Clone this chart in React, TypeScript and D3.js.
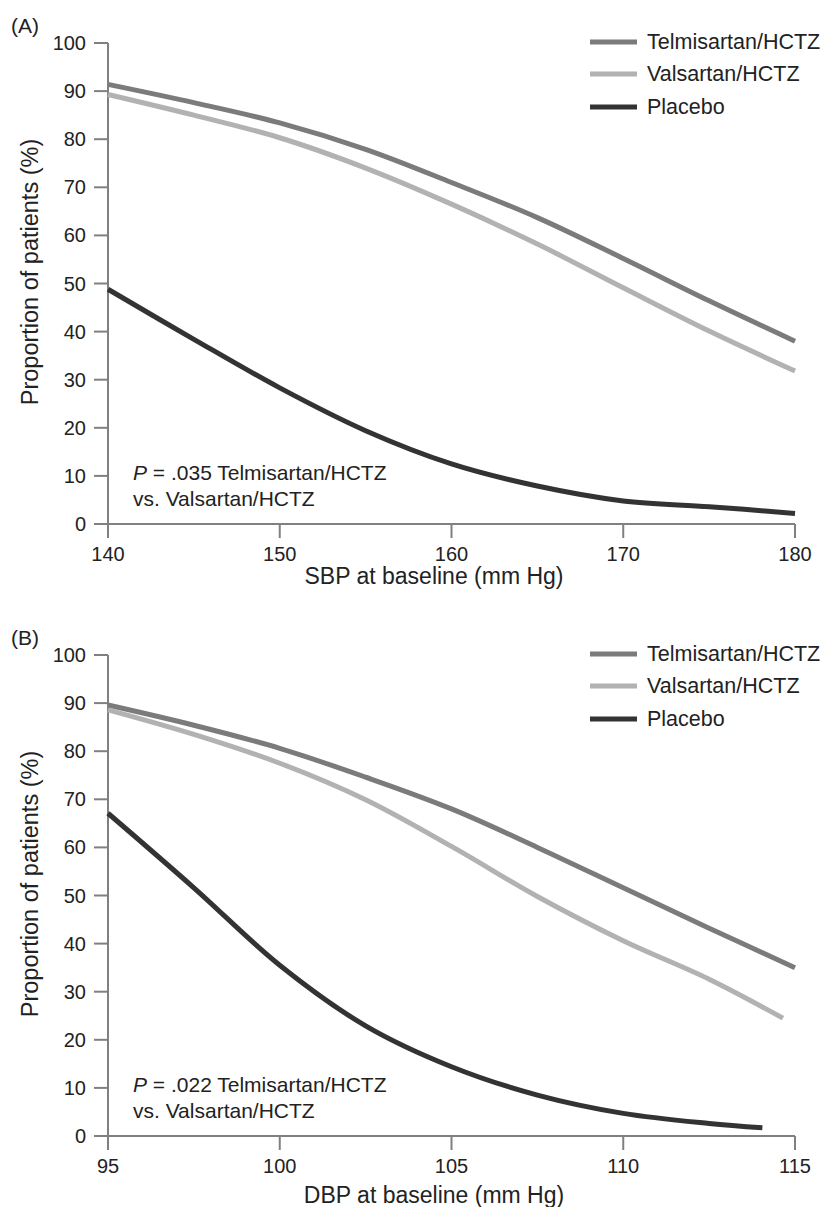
import React from "react";
import * as d3 from "d3";

// ---- Data ----
const sbpX = [140, 145, 150, 155, 160, 165, 170, 175, 180];
const sbpTelmisartan = [91.4, 87.6, 83.4, 77.9, 71.0, 63.7, 55.2, 46.4, 38.0];
const sbpValsartan = [89.3, 85.0, 80.3, 74.0, 66.5, 58.2, 49.1, 40.1, 31.8];
const sbpPlacebo = [48.8, 38.4, 28.3, 19.4, 12.5, 7.9, 4.8, 3.6, 2.2];

const dbpX = [95, 97.5, 100, 102.5, 105, 107.5, 110, 112.5, 115];
const dbpTelmisartan = [89.6, 85.4, 80.6, 74.6, 68.0, 60.0, 51.6, 43.2, 35.0];
const dbpValsartanX = [95, 97.5, 100, 102.5, 105, 107.5, 110, 112.5, 114.65];
const dbpValsartan = [88.6, 83.5, 77.5, 69.9, 60.2, 49.8, 40.6, 32.6, 24.5];
const dbpPlaceboX = [95, 97.5, 100, 102.5, 105, 107.5, 110, 112.5, 114.05];
const dbpPlacebo = [67.1, 51.6, 35.5, 22.9, 14.4, 8.5, 4.7, 2.6, 1.7];

const sbpTicks = [140, 150, 160, 170, 180];
const dbpTicks = [95, 100, 105, 110, 115];
const yTicks = [0, 10, 20, 30, 40, 50, 60, 70, 80, 90, 100];

const seriesNames = ["Telmisartan/HCTZ", "Valsartan/HCTZ", "Placebo"];
const seriesColors = ["#7b7b7b", "#b2b2b2", "#333333"];

const FONT = "'Liberation Sans', Arial, sans-serif";

type Series = { xs: number[]; ys: number[]; color: string };

function Panel(props: {
  top: number;
  label: string;
  xDomain: [number, number];
  xTicks: number[];
  xTitle: string;
  xTitleOffset: number;
  series: Series[];
  pText: string;
}) {
  const { top, label, xDomain, xTicks, xTitle, xTitleOffset, series, pText } = props;
  const left = 108;
  const right = 795;
  const plotTop = top;
  const plotBottom = top + 481;
  const x = d3.scaleLinear().domain(xDomain).range([left, right]);
  const y = d3.scaleLinear().domain([0, 100]).range([plotBottom, plotTop]);
  const line = d3
    .line<[number, number]>()
    .x((d) => x(d[0]))
    .y((d) => y(d[1]))
    .curve(d3.curveCatmullRom.alpha(0.5));
  const axisColor = "#808080";
  const legendY = [top - 1, top + 31, top + 64];
  return (
    <g>
      <text x={11} y={top - 16} fontSize={21} fontFamily={FONT} fill="#222" dominantBaseline="middle">
        {label}
      </text>
      {/* y axis */}
      <line x1={left} x2={left} y1={plotTop} y2={plotBottom + 14} stroke={axisColor} strokeWidth={2} />
      {yTicks.map((t) => (
        <g key={"y" + t}>
          <line x1={left - 14} x2={left} y1={y(t)} y2={y(t)} stroke={axisColor} strokeWidth={2} />
          <text
            x={left - 22}
            y={y(t)}
            fontSize={20}
            fontFamily={FONT}
            fill="#222"
            textAnchor="end"
            dominantBaseline="central"
          >
            {t}
          </text>
        </g>
      ))}
      {/* x axis */}
      <line x1={left - 14} x2={right} y1={plotBottom} y2={plotBottom} stroke={axisColor} strokeWidth={2} />
      {xTicks.map((t) => (
        <g key={"x" + t}>
          <line x1={x(t)} x2={x(t)} y1={plotBottom} y2={plotBottom + 14} stroke={axisColor} strokeWidth={2} />
          <text
            x={x(t)}
            y={plotBottom + 30}
            fontSize={20}
            fontFamily={FONT}
            fill="#222"
            textAnchor="middle"
            dominantBaseline="central"
          >
            {t}
          </text>
        </g>
      ))}
      <text
        x={434}
        y={plotBottom + xTitleOffset}
        fontSize={23}
        fontFamily={FONT}
        fill="#222"
        textAnchor="middle"
        dominantBaseline="central"
      >
        {xTitle}
      </text>
      <text
        transform={`translate(30,${plotTop + 229}) rotate(-90)`}
        fontSize={23.5}
        fontFamily={FONT}
        fill="#222"
        textAnchor="middle"
        dominantBaseline="central"
      >
        Proportion of patients (%)
      </text>
      {/* curves */}
      {series.map((s, i) => (
        <path
          key={"s" + i}
          d={line(s.xs.map((xv, j) => [xv, s.ys[j]] as [number, number])) || ""}
          fill="none"
          stroke={s.color}
          strokeWidth={5}
          strokeLinecap="butt"
          strokeLinejoin="round"
        />
      ))}
      {/* legend */}
      {seriesNames.map((n, i) => (
        <g key={"l" + i}>
          <line x1={590} x2={637} y1={legendY[i]} y2={legendY[i]} stroke={seriesColors[i]} strokeWidth={5} />
          <text x={647} y={legendY[i]} fontSize={21.5} fontFamily={FONT} fill="#222" dominantBaseline="central">
            {n}
          </text>
        </g>
      ))}
      {/* P value annotation */}
      <text x={133} y={plotBottom - 52} fontSize={21} fontFamily={FONT} fill="#222" dominantBaseline="central">
        <tspan fontStyle="italic">P</tspan>
        <tspan>{" = " + pText + " Telmisartan/HCTZ"}</tspan>
      </text>
      <text x={133} y={plotBottom - 26} fontSize={21} fontFamily={FONT} fill="#222" dominantBaseline="central">
        vs. Valsartan/HCTZ
      </text>
    </g>
  );
}

export default function App() {
  const seriesA: Series[] = [
    { xs: sbpX, ys: sbpTelmisartan, color: seriesColors[0] },
    { xs: sbpX, ys: sbpValsartan, color: seriesColors[1] },
    { xs: sbpX, ys: sbpPlacebo, color: seriesColors[2] },
  ];
  const seriesB: Series[] = [
    { xs: dbpX, ys: dbpTelmisartan, color: seriesColors[0] },
    { xs: dbpValsartanX, ys: dbpValsartan, color: seriesColors[1] },
    { xs: dbpPlaceboX, ys: dbpPlacebo, color: seriesColors[2] },
  ];
  return (
    <svg
      width={827}
      height={1207}
      style={{ position: "absolute", left: 0, top: 0, background: "#fff" }}
    >
      <rect x={0} y={0} width={827} height={1207} fill="#fff" />
      <Panel
        top={43}
        label="(A)"
        xDomain={[140, 180]}
        xTicks={sbpTicks}
        xTitle="SBP at baseline (mm Hg)"
        xTitleOffset={52}
        series={seriesA}
        pText=".035"
      />
      <Panel
        top={655}
        label="(B)"
        xDomain={[95, 115]}
        xTicks={dbpTicks}
        xTitle="DBP at baseline (mm Hg)"
        xTitleOffset={59}
        series={seriesB}
        pText=".022"
      />
    </svg>
  );
}
